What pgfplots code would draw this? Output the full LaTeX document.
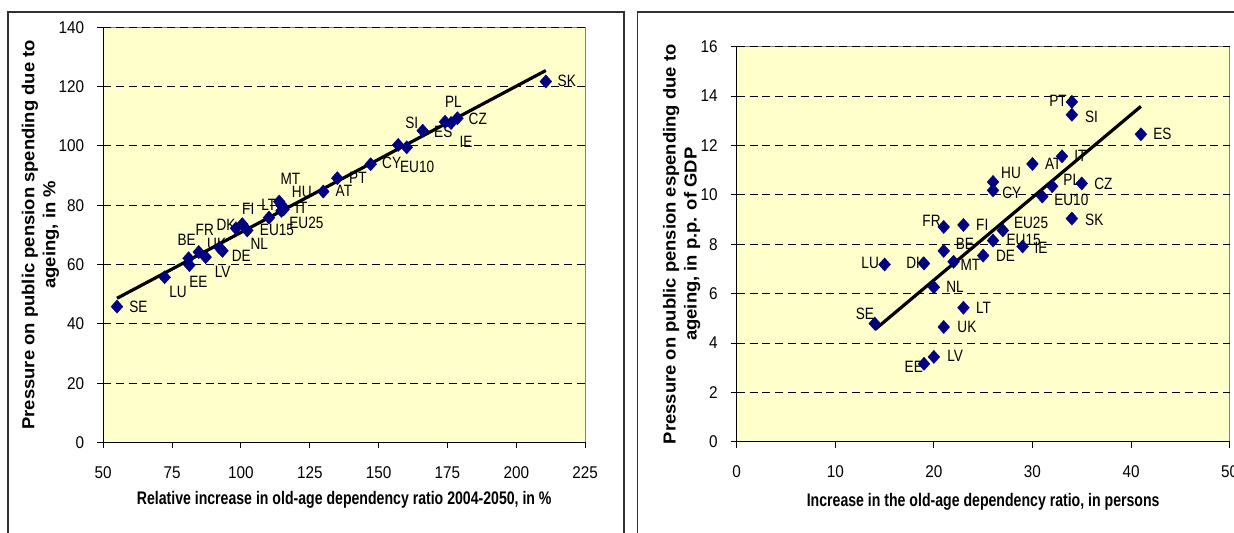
\documentclass[border=0pt]{standalone}
\usepackage{fontspec}
\setmainfont{Liberation Sans}
\newfontfamily\tickfont[FakeStretch=0.9]{Liberation Sans}
\newfontfamily\condfont[FakeStretch=0.775]{Liberation Sans}
\newfontfamily\lblfont[FakeStretch=0.83]{Liberation Sans}
\newfontfamily\widefont[FakeStretch=1.06]{Liberation Sans}
\usepackage{pgfplots}
\usepackage{pgfplotstable}
\pgfplotsset{compat=1.18}
\definecolor{plotbg}{RGB}{255,255,204}
\definecolor{navy}{RGB}{0,0,128}
\definecolor{framegray}{RGB}{50,50,50}

\pgfplotstableread{
x y lbl dx dy
55.0 45.8 SE 10.7 0
72.3 55.7 LU 6.7 -7.1
81.3 59.8 EE 4.5 -8.5
81.0 62.1 BE -1.0 9.4
84.7 64.2 FR 3.0 10.9
87.2 62.5 LV 8.5 -7.2
92.2 65.7 UK -1.4 1.8
93.3 64.6 DE 9.4 -2.3
98.2 72.2 DK -5.0 1.7
100.5 73.6 FI 3.0 7.6
102.3 71.5 NL 6.0 -6.7
110.2 75.8 EU15 4.0 -6.3
113.9 81.2 LT -5.2 -1.7
114.7 80.0 MT 4.5 13.2
115.2 79.5 HU 9.5 7.3
115.5 78.6 IT 8.9 0.7
114.7 78.1 EU25 12.5 -5.8
129.9 84.6 AT 10.3 0.2
135.0 89.1 PT 10.3 0.3
147.1 93.8 CY 10.5 0.6
157.1 100.3 EU10 9.5 -11.1
160.2 99.5 SI 2.5 12.0
166.0 105.1 ES 10.3 -0.5
174.1 108.1 PL 4.2 10.0
178.6 109.3 CZ 10.2 -0.5
176.3 107.7 IE 7.5 -9.4
210.7 121.7 SK 10.5 0.5
}\leftdata

\pgfplotstableread{
x y lbl dx dy
34.0 13.76 PT -6.9 0.3
34.0 13.24 SI 9.8 -1.2
41.0 12.45 ES 10.8 0
33.0 11.56 IT 9.2 0.3
30.0 11.25 AT 10.4 0
26.0 10.52 HU 9.0 4.6
26.0 10.18 CY 9.4 -1.4
32.0 10.35 PL 9.8 3.1
35.0 10.46 CZ 10.8 0
31.0 9.93 EU10 14.5 -1.7
34.0 9.04 SK 11.2 -0.8
21.0 8.70 FR -6.1 3.1
23.0 8.78 FI 9.4 0
27.0 8.56 EU25 14.1 3.6
26.0 8.15 EU15 15.3 0.5
29.0 7.91 IE 9.2 -0.5
21.0 7.73 BE 10.6 3.4
25.0 7.54 DE 11.2 0
22.0 7.29 MT 8.4 -1.4
19.0 7.22 DK -4.1 0.3
15.0 7.18 LU -7.2 0.8
20.0 6.26 NL 10.6 0
23.0 5.43 LT 10.0 0
14.0 4.79 SE -4.9 4.6
21.0 4.65 UK 11.6 0
20.0 3.44 LV 10.6 0.3
19.0 3.16 EE -5.1 -1.4
}\rightdata

\pgfplotsset{
  excelstyle/.style={
    scale only axis,
    anchor=south west,
    axis lines*=left,
    axis line style={-, black, line width=0.6pt},
    axis background/.style={fill=plotbg, draw=gray, line width=0.6pt},
    tick align=outside,
    major tick length=3pt,
    tick style={black, line width=0.5pt},
    ymajorgrids,
    major grid style={black, line width=0.5pt, dash pattern=on 4pt off 2.4pt},
    /pgf/number format/assume math mode=true,
    tick label style={font=\tickfont\fontsize{8.5}{9.5}\selectfont},
    xticklabel shift=5.5pt,
    yticklabel shift=3pt,
    enlargelimits=false,
  },
  lbls/.style={only marks, mark=none, point meta=explicit symbolic,
    visualization depends on={\thisrow{dx} \as \lx},
    visualization depends on={\thisrow{dy} \as \ly},
    nodes near coords,
    every node near coord/.append style={anchor=center, inner sep=0pt,
      xshift=\lx pt, yshift=\ly pt, text=black,
      font=\lblfont\fontsize{8.2}{9}\selectfont}},
  pts/.style={only marks, mark=diamond*, mark size=3.3pt,
    mark options={fill=navy, draw=navy, xscale=1.19, line width=0.2pt}},
  trend/.style={black, line width=1.6pt, mark=none},
}

\begin{document}
\begin{tikzpicture}
\useasboundingbox (0,0) rectangle (617pt,266.5pt);
\draw[framegray, line width=0.75pt] (4pt,-20pt) rectangle (312pt,260.5pt);
\draw[framegray, line width=0.75pt] (318.8pt,-20pt) rectangle (650pt,260.5pt);

\begin{axis}[excelstyle,
  at={(51.6pt,45.25pt)}, width=241pt, height=207.65pt,
  xmin=50, xmax=225, ymin=0, ymax=140,
  xtick={50,75,...,225}, ytick={0,20,...,140},
  xlabel={Relative increase in old-age dependency ratio 2004-2050, in \%},
  ylabel={Pressure on public pension spending due to\\ ageing, in \%},
  every axis x label/.style={at={(axis description cs:0.5,-0.1377)}, anchor=center,
    font=\condfont\bfseries\fontsize{9.1}{10}\selectfont},
  every axis y label/.style={at={(axis description cs:-0.1301,0.5)}, anchor=center,
    rotate=90, align=center, font=\widefont\bfseries\fontsize{8.7}{10.5}\selectfont},
]
\addplot[lbls] table[x=x, y=y, meta=lbl] {\leftdata};
\addplot[pts] table[x=x, y=y] {\leftdata};
\addplot[trend] coordinates {(55,48.6) (210.7,125.4)};
\end{axis}

\begin{axis}[excelstyle,
  at={(368.35pt,45.55pt)}, width=246.45pt, height=197.65pt,
  xmin=0, xmax=50, ymin=0, ymax=16,
  xtick={0,10,...,50}, ytick={0,2,...,16},
  xlabel={Increase in the old-age dependency ratio, in persons},
  ylabel={Pressure on public pension espending due to\\ ageing, in p.p. of GDP},
  every axis x label/.style={at={(axis description cs:0.5,-0.1505)}, anchor=center,
    font=\condfont\bfseries\fontsize{9.1}{10}\selectfont},
  every axis y label/.style={at={(axis description cs:-0.1118,0.5)}, anchor=center,
    rotate=90, align=center, font=\widefont\bfseries\fontsize{8.7}{10.5}\selectfont},
]
\addplot[lbls] table[x=x, y=y, meta=lbl] {\rightdata};
\addplot[pts] table[x=x, y=y] {\rightdata};
\addplot[trend] coordinates {(14,4.54) (41,13.58)};
\end{axis}
\end{tikzpicture}
\end{document}
